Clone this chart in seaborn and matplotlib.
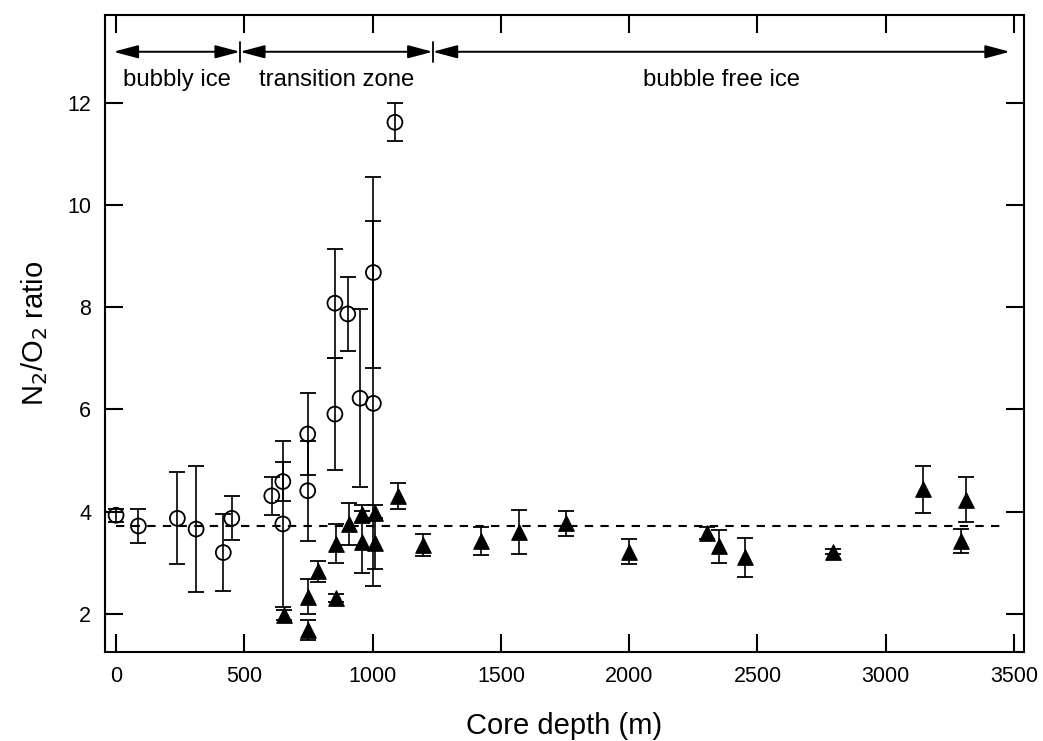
import matplotlib
matplotlib.use("Agg")
import matplotlib.pyplot as plt
import pandas as pd
import seaborn as sns

# --- Data ---
# open circles (bubbly ice / transition zone)
circle_depth = [0, 87, 239, 312, 418, 451, 607, 650, 650, 747, 747, 853, 853, 903, 951, 1003, 1003, 1087]
circle_ratio = [3.93, 3.72, 3.87, 3.66, 3.20, 3.87, 4.31, 4.59, 3.76, 5.52, 4.41, 8.08, 5.91, 7.87, 6.22, 8.68, 6.12, 11.62]
circle_err = [0.13, 0.33, 0.90, 1.23, 0.76, 0.43, 0.37, 0.38, 1.62, 0.80, 0.98, 1.07, 1.10, 0.73, 1.74, 1.86, 3.57, 0.37]

# filled triangles
tri_depth = [655, 749, 749, 788, 857, 857, 908, 957, 957, 1009, 1009, 1098, 1198,
             1421, 1572, 1754, 2000, 2302, 2351, 2451, 2793, 3144, 3295, 3311]
tri_ratio = [1.98, 2.34, 1.69, 2.83, 2.31, 3.37, 3.76, 3.96, 3.41, 3.98, 3.38, 4.31, 3.35,
             3.43, 3.61, 3.77, 3.22, 3.58, 3.32, 3.11, 3.22, 4.44, 3.43, 4.23]
tri_err = [0.10, 0.35, 0.20, 0.21, 0.07, 0.38, 0.41, 0.18, 0.60, 0.15, 0.50, 0.26, 0.22,
           0.27, 0.43, 0.24, 0.24, 0.12, 0.33, 0.38, 0.05, 0.46, 0.24, 0.44]

mean_ratio = 3.72
mean_span = [0, 3460]

zone_edges = [-10, 483, 1234, 3484]
zone_labels = ["bubbly ice", "transition zone", "bubble free ice"]
zone_label_x = [236, 860, 2360]

x_ticks = [0, 500, 1000, 1500, 2000, 2500, 3000, 3500]
y_ticks = [2, 4, 6, 8, 10, 12]

circles = pd.DataFrame({"depth": circle_depth, "ratio": circle_ratio, "err": circle_err})
tris = pd.DataFrame({"depth": tri_depth, "ratio": tri_ratio, "err": tri_err})

sns.set_theme(style="ticks")
plt.rcParams["font.family"] = ["Liberation Sans", "DejaVu Sans"]
plt.rcParams.update({"text.color": "black", "axes.labelcolor": "black",
                     "xtick.color": "black", "ytick.color": "black"})

fig = plt.figure(figsize=(10.43, 7.41), dpi=100)
ax = fig.add_axes([0.1007, 0.1205, 0.8811, 0.8593])

# error bars first, markers on top
for d in (circles, tris):
    ax.errorbar(d["depth"], d["ratio"], yerr=d["err"], fmt="none", ecolor="black",
                elinewidth=1.2, capsize=5.5, capthick=1.3, zorder=2)

sns.scatterplot(data=circles, x="depth", y="ratio", marker="o", s=115,
                facecolor="none", edgecolor="black", linewidth=1.3, ax=ax, zorder=3)
sns.scatterplot(data=tris, x="depth", y="ratio", marker="^", s=125,
                color="black", edgecolor="black", linewidth=0.8, ax=ax, zorder=3)

# mean level
ax.hlines(mean_ratio, mean_span[0], mean_span[1], colors="black", linewidth=1.5,
          linestyles=(0, (4, 3.5)), zorder=1)

# zone arrows
arrow_y = 13.0
for i in range(3):
    ax.annotate("", xy=(zone_edges[i + 1], arrow_y), xytext=(zone_edges[i], arrow_y),
                arrowprops=dict(arrowstyle="<|-|>,head_length=0.75,head_width=0.2",
                                color="black", lw=1.4, shrinkA=0, shrinkB=0,
                                mutation_scale=20))
    ax.text(zone_label_x[i], 12.45, zone_labels[i], ha="center", va="center", fontsize=17.2)
for xb in zone_edges[1:3]:
    ax.plot([xb, xb], [12.8, 13.2], color="black", lw=1.3)

ax.set_xlim(-43, 3539)
ax.set_ylim(1.26, 13.72)
ax.set_xticks(x_ticks)
ax.set_yticks(y_ticks)
ax.tick_params(direction="in", length=13, width=1.5, top=True, right=True,
               labelsize=15.5, pad=10)
for sp in ax.spines.values():
    sp.set_linewidth(1.5)
    sp.set_color("black")

ax.set_xlabel("Core depth (m)", fontsize=21, labelpad=18)
ax.set_ylabel("N$_2$/O$_2$ ratio", fontsize=21, labelpad=12)

fig.savefig("out.png", dpi=100)
